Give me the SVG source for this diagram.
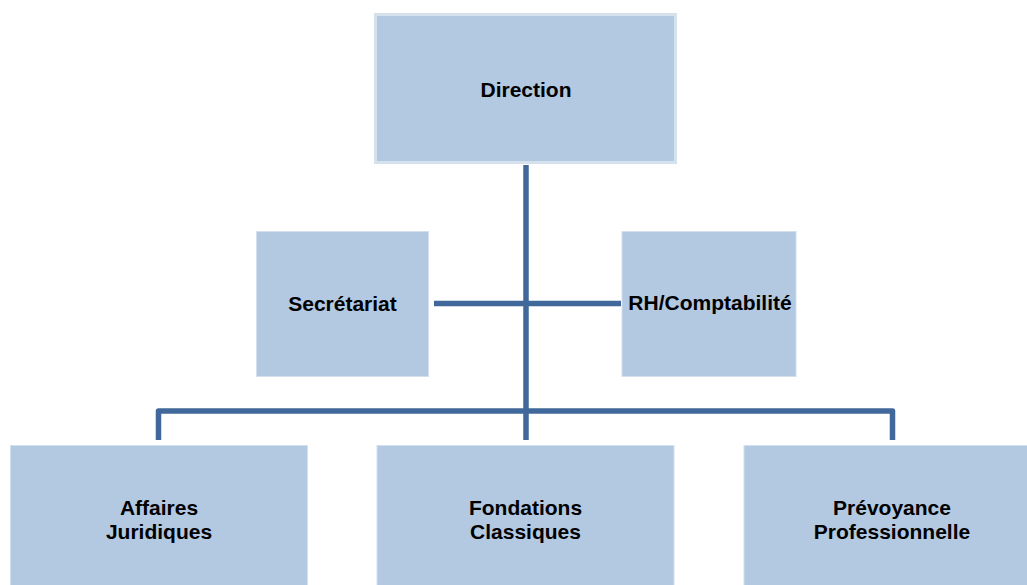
<svg xmlns="http://www.w3.org/2000/svg" width="1027" height="585" viewBox="0 0 1027 585">
<style>
.box{fill:#b3c8e1;stroke:#d3dfed;stroke-width:1}
.top{fill:#b3c8e1;stroke:#d6e1ee;stroke-width:3}
.lbl{font-family:"Liberation Sans",Arial,sans-serif;font-weight:bold;font-size:21px;fill:#000;text-anchor:middle}
.ln{fill:none;stroke:#41689a;stroke-width:5.5;stroke-linejoin:round}
</style>
<rect width="1027" height="585" fill="#fff"/>
<g id="connectors">
<path class="ln" d="M526,165 V440"/>
<path class="ln" d="M434,303.5 H621"/>
<path class="ln" d="M158.5,440 V411 H892.5 V440"/>
</g>
<g id="direction">
<rect class="top" x="375.5" y="14.5" width="300" height="148"/>
<text class="lbl" x="526" y="96.5">Direction</text>
</g>
<g id="secretariat">
<rect class="box" x="256.5" y="231.5" width="172" height="145"/>
<text class="lbl" x="342.5" y="311">Secrétariat</text>
</g>
<g id="rh">
<rect class="box" x="622" y="231.5" width="174" height="145"/>
<text class="lbl" x="710" y="310">RH/Comptabilité</text>
</g>
<g id="affaires">
<rect class="box" x="10.5" y="445.5" width="297" height="145"/>
<text class="lbl" x="159" y="515">Affaires</text>
<text class="lbl" x="159" y="538.5">Juridiques</text>
</g>
<g id="fondations">
<rect class="box" x="377" y="445.5" width="297" height="145"/>
<text class="lbl" x="525.5" y="515">Fondations</text>
<text class="lbl" x="525.5" y="538.5">Classiques</text>
</g>
<g id="prevoyance">
<rect class="box" x="744" y="445.5" width="297" height="145"/>
<text class="lbl" x="892" y="515">Prévoyance</text>
<text class="lbl" x="892" y="538.5">Professionnelle</text>
</g>
</svg>
